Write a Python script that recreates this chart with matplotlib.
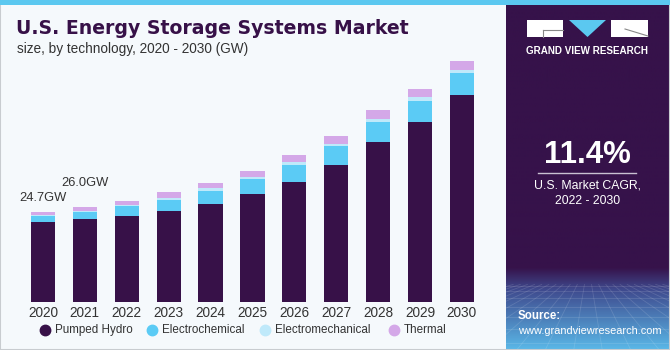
import matplotlib
matplotlib.use('Agg')
import matplotlib.pyplot as plt
import numpy as np
from matplotlib.patches import Rectangle, Polygon
from matplotlib.lines import Line2D
from matplotlib.colors import to_rgb

# ---------------- data ----------------
years = ['2020', '2021', '2022', '2023', '2024', '2025', '2026', '2027', '2028', '2029', '2030']
pumped_hydro = [21.9, 22.7, 23.6, 24.9, 26.9, 29.6, 32.8, 37.4, 43.8, 49.3, 56.8]
electrochemical = [1.6, 2.0, 2.7, 3.1, 3.6, 4.0, 4.8, 5.2, 5.6, 5.7, 5.9]
electromechanical = [0.2, 0.3, 0.3, 0.5, 0.6, 0.5, 0.8, 0.8, 0.7, 1.1, 0.8]
thermal = [1.0, 1.0, 1.1, 1.5, 1.5, 1.8, 1.9, 2.2, 2.4, 2.2, 2.5]
series_names = ['Pumped Hydro', 'Electrochemical', 'Electromechanical', 'Thermal']
value_labels = {0: '24.7GW', 1: '26.0GW'}

title = 'U.S. Energy Storage Systems Market'
subtitle = 'size, by technology, 2020 - 2030 (GW)'
cagr = '11.4%'
cagr_text = 'U.S. Market CAGR,\n2022 - 2030'

# ---------------- style ----------------
colors = ['#371148', '#5bcbf5', '#bfe9fa', '#d4a8e8']
bg = '#f5f9fc'
panel = '#36124a'
W, H = 670, 350
FONT = 'Liberation Sans'

fig = plt.figure(figsize=(W / 100, H / 100), dpi=100)
fig.patch.set_facecolor(bg)

def fx(px):
    return px / W

def fy(py):
    return 1 - py / H

# border + top stripe
fig.add_artist(Rectangle((0, 0), 1, 1, transform=fig.transFigure, facecolor='none',
                         edgecolor='#c8ccd0', linewidth=1.5))
fig.add_artist(Rectangle((0, fy(5)), 1, 5 / H, transform=fig.transFigure,
                         facecolor='#5bc8f0', edgecolor='none', zorder=5))

# ---------------- right panel ----------------
pax = fig.add_axes([fx(506), 0, fx(164), fy(5)])
nrows = 346
grad = np.zeros((nrows, 2, 3))
c_top = np.array(to_rgb(panel))
c_mid = np.array(to_rgb('#3f4a8e'))
c_bot = np.array(to_rgb('#5ab8e8'))
for r in range(nrows):
    y = r + 5
    if y < 268:
        c = c_top
    elif y < 290:
        t = (y - 268) / 22
        c = c_top * (1 - t) + c_mid * t
    else:
        t = (y - 290) / 60
        c = c_mid * (1 - t) + c_bot * t
    grad[r, :, :] = c
pax.imshow(grad, aspect='auto', extent=[0, 1, 0, 1], origin='upper')
# faint perspective grid
for k in np.linspace(-1.5, 2.5, 24):
    pax.plot([0.5 + (k - 0.5) * 0.25, k], [0.19, 0.0], color='white', alpha=0.13, lw=0.6)
for yy in [0.185, 0.17, 0.15, 0.125, 0.095, 0.06, 0.02]:
    pax.plot([0, 1], [yy, yy], color='white', alpha=0.13, lw=0.6)
pax.set_xlim(0, 1)
pax.set_ylim(0, 1)
pax.axis('off')

# logo
fig.add_artist(Rectangle((fx(527), fy(37)), fx(36), 17 / H, transform=fig.transFigure,
                         facecolor='white', edgecolor='none', zorder=6))
fig.add_artist(Rectangle((fx(611), fy(37)), fx(37), 17 / H, transform=fig.transFigure,
                         facecolor='white', edgecolor='none', zorder=6))
fig.add_artist(Polygon([(fx(569), fy(20)), (fx(606), fy(20)), (fx(587.5), fy(37))],
                       closed=True, transform=fig.transFigure, facecolor='#5bc8f0',
                       edgecolor='none', zorder=6))
fig.add_artist(Line2D([fx(543), fx(563)], [fy(30), fy(30)], transform=fig.transFigure,
                      color='#888', lw=0.8, zorder=7))
fig.add_artist(Line2D([fx(543), fx(543)], [fy(30), fy(37)], transform=fig.transFigure,
                      color='#888', lw=0.8, zorder=7))
fig.add_artist(Line2D([fx(625), fx(648)], [fy(29), fy(36)], transform=fig.transFigure,
                      color='#888', lw=0.8, zorder=7))
fig.text(fx(587.5), fy(51.5), 'GRAND VIEW RESEARCH', color='white', fontsize=7.1,
         fontweight='bold', ha='center', va='center', family=FONT, zorder=7)

fig.text(fx(587.5), fy(155), cagr, color='white', fontsize=22.5, fontweight='bold',
         ha='center', va='center', family=FONT, zorder=7)
fig.add_artist(Line2D([fx(538), fx(636)], [fy(173), fy(173)], transform=fig.transFigure,
                      color='#c9c0d2', lw=1.0, zorder=7))
fig.text(fx(587.5), fy(193), cagr_text, color='white', fontsize=8.8, ha='center',
         va='center', family=FONT, linespacing=1.35, zorder=7)
fig.text(fx(518), fy(316), 'Source:', color='white', fontsize=8.3, fontweight='bold',
         ha='left', va='center', family=FONT, zorder=7)
fig.text(fx(518), fy(330.5), 'www.grandviewresearch.com', color='white', fontsize=7.9,
         ha='left', va='center', family=FONT, zorder=7)

# ---------------- titles ----------------
fig.text(fx(16), fy(28), title, color='#371148', fontsize=13.6, fontweight='bold',
         ha='left', va='center', family='DejaVu Sans')
fig.text(fx(17), fy(49), subtitle, color='#333333', fontsize=9.8,
         ha='left', va='center', family=FONT)

# ---------------- chart ----------------
base_px = 301.7
top_px = 55
ax = fig.add_axes([fx(17), fy(base_px), fx(490 - 17), (base_px - top_px) / H])
ax.set_facecolor('none')
x = np.arange(len(years))
stack = [pumped_hydro, electrochemical, electromechanical, thermal]
bottom = np.zeros(len(years))
for vals, col, name in zip(stack, colors, series_names):
    ax.bar(x, vals, width=0.58, bottom=bottom, color=col, edgecolor='none', label=name)
    bottom += np.array(vals)
ax.set_xlim(-0.62, 10.67)
ax.set_ylim(0, (base_px - top_px) / 3.644)
for s in ax.spines.values():
    s.set_visible(False)
ax.set_yticks([])
ax.set_xticks(x)
ax.set_xticklabels(years, fontsize=9.8, color='#333333', family=FONT)
ax.tick_params(axis='x', length=0, pad=3)

offsets = {0: 10, 1: 17.5}
for i, lab in value_labels.items():
    ax.annotate(lab, (x[i], bottom[i]), xytext=(0, offsets[i]), textcoords='offset points',
                ha='center', va='center', fontsize=9.3, color='#333333', family=FONT)

# legend (manual)
leg_marker_x = [45, 152, 265, 394]
leg_y = 330
for name, col, mx in zip(series_names, colors, leg_marker_x):
    fig.add_artist(Line2D([fx(mx)], [fy(leg_y)], transform=fig.transFigure, marker='o',
                          markersize=7.5, color=col, linestyle='none'))
    fig.text(fx(mx + 10), fy(leg_y), name, color='#333333', fontsize=8.4,
             ha='left', va='center', family=FONT)

fig.savefig('out.png', dpi=100, facecolor=fig.get_facecolor())
